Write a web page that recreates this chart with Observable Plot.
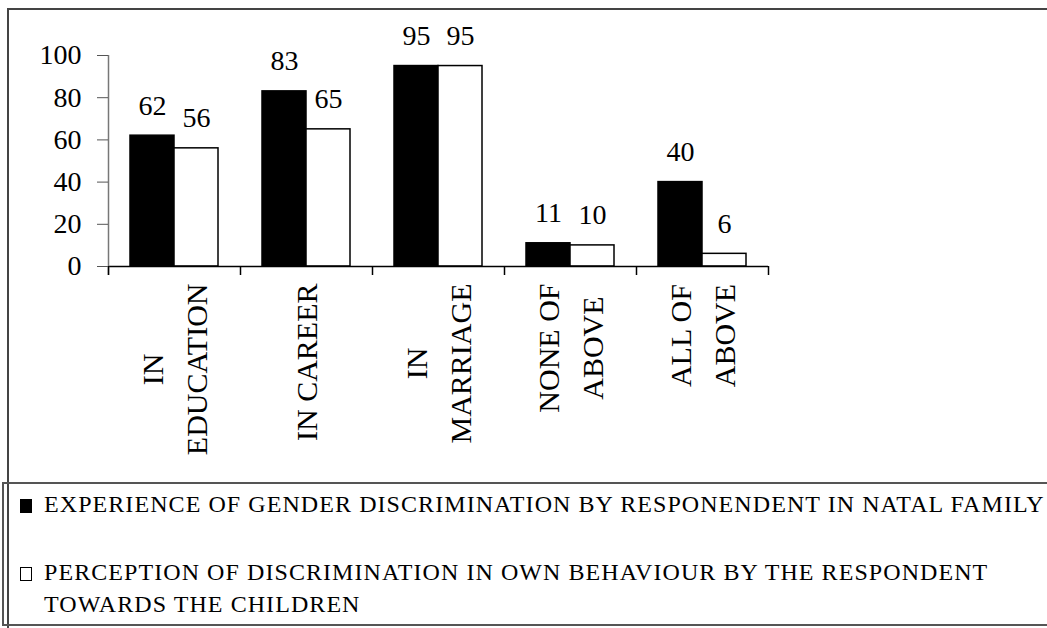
<!DOCTYPE html>
<html>
<head>
<meta charset="utf-8">
<script src="https://cdn.jsdelivr.net/npm/d3@7"></script>
<script src="https://cdn.jsdelivr.net/npm/@observablehq/plot@0.6"></script>
<style>
  html, body { margin: 0; padding: 0; background: #fff; }
  #wrap { position: relative; width: 1047px; height: 628px; overflow: hidden; background: #fff; font-family: "Liberation Serif", "Times New Roman", serif; }
  #chart { position: absolute; left: 0; top: 0; }
  #outer { position: absolute; left: 7px; top: 8px; width: 1100px; height: 700px; border: 2px solid #444; pointer-events: none; }
  #legend { position: absolute; left: 2px; top: 482px; width: 1100px; height: 140px; border: 2px solid #555; }
  .item { position: absolute; left: 16px; display: flex; align-items: flex-start; font-family: "Liberation Serif", serif; font-size: 24px; line-height: 32px; letter-spacing: 1.07px; color: #000; white-space: nowrap; }
  .sw { flex: none; width: 12px; height: 14px; margin-top: 11px; margin-right: 12px; box-sizing: border-box; border: 1.5px solid #000; }
</style>
</head>
<body>
<div id="wrap">
  <div id="chart"></div>
  <div id="outer"></div>
  <div id="legend"></div>
</div>
<script>
// ---- data ----
const categories = ["IN\nEDUCATION", "IN CAREER", "IN\nMARRIAGE", "NONE OF\nABOVE", "ALL OF\nABOVE"];
const seriesNames = [
  "EXPERIENCE OF GENDER DISCRIMINATION BY RESPONENDENT IN NATAL FAMILY",
  "PERCEPTION OF DISCRIMINATION IN OWN BEHAVIOUR BY THE RESPONDENT TOWARDS THE CHILDREN"
];
const legendLabels = [
  ["EXPERIENCE OF GENDER DISCRIMINATION BY RESPONENDENT IN NATAL FAMILY"],
  ["PERCEPTION OF DISCRIMINATION IN OWN BEHAVIOUR BY THE RESPONDENT", "TOWARDS THE CHILDREN"]
];
const experience = [62, 83, 95, 11, 40];
const perception = [56, 65, 95, 10, 6];
const yTicks = [0, 20, 40, 60, 80, 100];
const seriesColors = ["#000000", "#ffffff"];

const data = [];
categories.forEach((c, i) => {
  data.push({cat: c, series: seriesNames[0], value: experience[i]});
  data.push({cat: c, series: seriesNames[1], value: perception[i]});
});

// ---- layout ----
const W = 1047, H = 483;
const mL = 108, mR = 279, mT = 55, mB = 217;
const facetW = (W - mL - mR) / categories.length;
const step = facetW / 3;
const serif = '"Liberation Serif", "Times New Roman", serif';

const ctx = document.createElement("canvas").getContext("2d");
ctx.font = `30px ${serif}`;
const longest = (s) => Math.max(...s.split("\n").map(l => ctx.measureText(l).width));

const catMarks = categories.map(c => Plot.text([c], {
  fx: d => d, text: d => d, frameAnchor: "bottom", rotate: -90,
  textAnchor: "middle", lineAnchor: "middle", lineHeight: 1.47,
  fontSize: 30, fontFamily: serif, dy: 17 + longest(c) / 2, dx: -4, fill: "#000"
}));

const chart = Plot.plot({
  width: W, height: H,
  marginLeft: mL, marginRight: mR, marginTop: mT, marginBottom: mB,
  style: {fontFamily: serif, fontSize: "28px", background: "transparent", color: "#000", overflow: "visible"},
  fx: {domain: categories, padding: 0, axis: null, label: null},
  x: {domain: seriesNames, paddingInner: 0, paddingOuter: 0.5, axis: null, label: null},
  y: {domain: [0, 100], axis: null, label: null},
  color: {domain: seriesNames, range: seriesColors},
  marks: [
    Plot.barY(data, {fx: "cat", x: "series", y: "value", fill: "series", stroke: "#000", strokeWidth: 1.5}),
    Plot.ruleY([0], {stroke: "#000", strokeWidth: 1.5}),
    // y axis line (leftmost facet)
    Plot.ruleX([categories[0]], {fx: d => d, x: () => seriesNames[0], dx: -step, y1: 100, y2: 0, insetBottom: -9, stroke: "#777", strokeWidth: 1.5}),
    // category boundary ticks
    Plot.ruleX(categories, {fx: d => d, x: () => seriesNames[0], dx: -step, y1: 0, y2: 0, insetBottom: -9, stroke: "#000", strokeWidth: 1.5}),
    Plot.ruleX([categories[categories.length - 1]], {fx: d => d, x: () => seriesNames[1], dx: step, y1: 0, y2: 0, insetBottom: -9, stroke: "#000", strokeWidth: 1.5}),
    Plot.axisY({ticks: yTicks, label: null, tickSize: 11, tickPadding: 16, fontSize: 28, fontFamily: serif, stroke: "#555", tickFormat: d => String(d)}),
    Plot.text(data, {fx: "cat", x: "series", y: "value", text: d => String(d.value), lineAnchor: "bottom", dy: -21, fontSize: 28, fontFamily: serif, fill: "#000"}),
    ...catMarks
  ]
});
document.getElementById("chart").appendChild(chart);

// ---- legend ----
const legend = document.getElementById("legend");
const tops = [4, 72];
legendLabels.forEach((lines, i) => {
  const item = document.createElement("div");
  item.className = "item";
  item.style.top = tops[i] + "px";
  const sw = document.createElement("div");
  sw.className = "sw";
  sw.style.background = seriesColors[i];
  const txt = document.createElement("div");
  txt.innerHTML = lines.join("<br>");
  item.appendChild(sw);
  item.appendChild(txt);
  legend.appendChild(item);
});
</script>
</body>
</html>
